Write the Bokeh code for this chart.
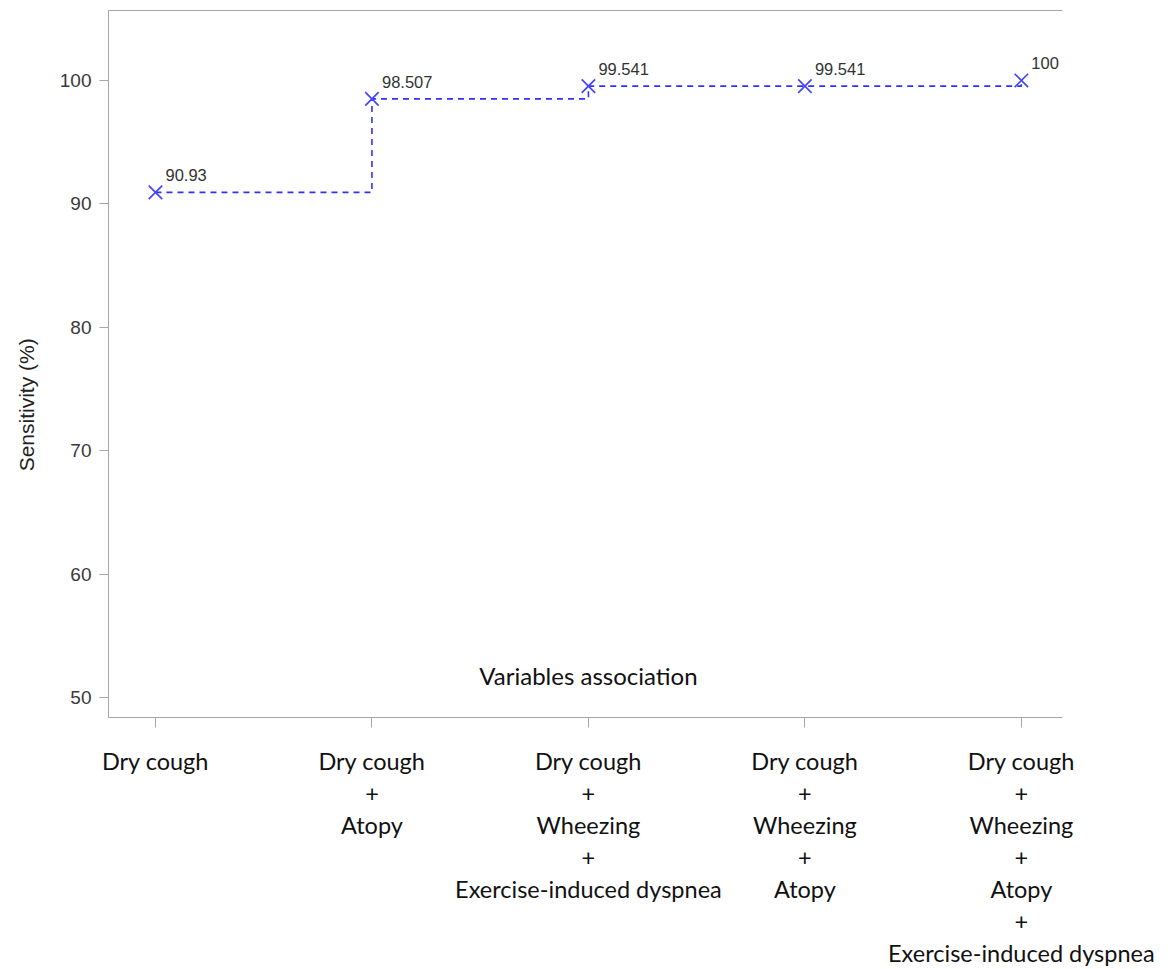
from bokeh.plotting import figure
from bokeh.models import Range1d, FixedTicker, LinearAxis, Label, ColumnDataSource
from bokeh.core.properties import value
from bokeh.embed import file_html
from bokeh.resources import INLINE

categories = [
    "Dry cough",
    "Dry cough\n+\nAtopy",
    "Dry cough\n+\nWheezing\n+\nExercise-induced dyspnea",
    "Dry cough\n+\nWheezing\n+\nAtopy",
    "Dry cough\n+\nWheezing\n+\nAtopy\n+\nExercise-induced dyspnea",
]
sensitivity = [90.93, 98.507, 99.541, 99.541, 100]
point_labels = ["90.93", "98.507", "99.541", "99.541", "100"]
y_ticks = [50, 60, 70, 80, 90, 100]
x_title = "Variables association"
y_title = "Sensitivity (%)"

xs = list(range(len(categories)))
src = ColumnDataSource(dict(x=xs, y=sensitivity, lab=point_labels))

p = figure(frame_width=954, frame_height=707, output_backend="svg", toolbar_location=None,
           x_range=Range1d(-0.217, 4.19), y_range=Range1d(48.38, 105.67),
           min_border_left=108, min_border_right=98, min_border_top=10, min_border_bottom=0)
p.outline_line_color = None
p.xgrid.visible = False
p.ygrid.visible = False
p.background_fill_color = "white"

axis_grey = "#a6a6a6"

# Y axis
ya = p.yaxis[0]
ya.ticker = FixedTicker(ticks=y_ticks)
ya.axis_line_color = axis_grey
ya.major_tick_line_color = axis_grey
ya.major_tick_out = 9
ya.major_tick_in = 0
ya.minor_tick_line_color = None
ya.major_label_text_font = "Liberation Sans"
ya.major_label_text_font_size = "19px"
ya.major_label_text_color = "#3a3a3a"
ya.major_label_standoff = 8
# trailing no-break spaces shift the rotated title down toward the reference position
ya.axis_label = y_title + "\u00a0" * 14
ya.axis_label_text_font = "Liberation Sans"
ya.axis_label_text_font_size = "21px"
ya.axis_label_text_font_style = "normal"
ya.axis_label_text_color = "#222222"
ya.axis_label_standoff = 19

# X axis
xa = p.xaxis[0]
xa.ticker = FixedTicker(ticks=xs)
xa.major_label_overrides = {i: c for i, c in zip(xs, categories)}
xa.axis_line_color = axis_grey
xa.major_tick_line_color = axis_grey
xa.major_tick_out = 10
xa.major_tick_in = 0
xa.minor_tick_line_color = None
xa.major_label_text_font = "Lato"
xa.major_label_text_font_size = "23.5px"
xa.major_label_text_color = "#111111"
xa.major_label_text_line_height = 1.145
xa.major_label_standoff = 19
xa.major_label_orientation = "horizontal"

# top border line
top = LinearAxis(ticker=FixedTicker(ticks=[]), axis_line_color=axis_grey,
                 major_tick_line_color=None, minor_tick_line_color=None,
                 major_label_text_font_size="0px")
p.add_layout(top, "above")

# step line and markers
p.step("x", "y", source=src, mode="after", line_color="#3030ff", line_width=1.6,
       line_dash="6 5")
p.scatter("x", "y", source=src, marker="x", size=19, line_color="#4444ff", line_width=1.7)
p.text("x", "y", text="lab", source=src, x_offset=10, y_offset=-11,
       text_font=value("Liberation Sans"), text_font_size="16.5px", text_color="#333333",
       text_align="left", text_baseline="bottom")

p.add_layout(Label(x=2, y=51.8, text=x_title, text_font="Lato", text_font_size="24px",
                   text_color="#111111", text_align="center", text_baseline="middle"))

open("out.html", "w").write(file_html(p, INLINE))
